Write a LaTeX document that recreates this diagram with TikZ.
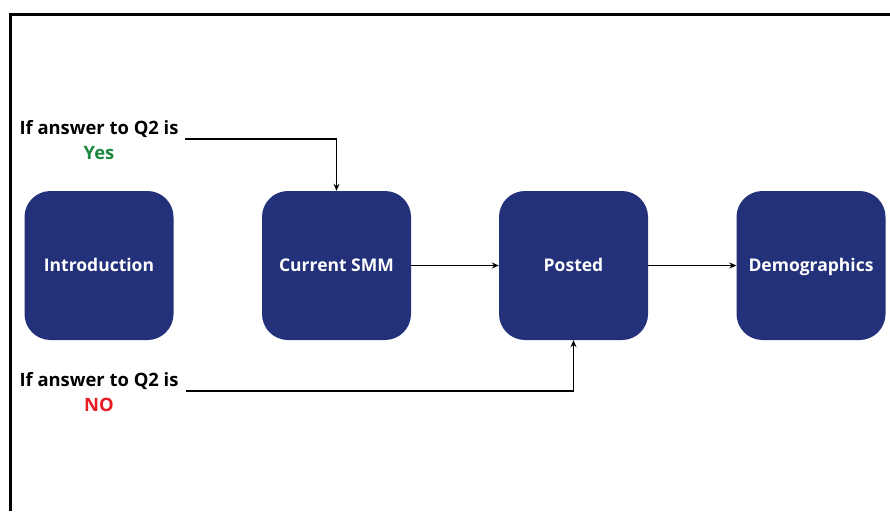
\documentclass[tikz,border=0pt]{standalone}
\usepackage{fontspec}
\setmainfont{Open Sans}
\usetikzlibrary{arrows.meta}
\definecolor{navy}{RGB}{35,48,122}
\definecolor{yesgreen}{RGB}{28,135,62}
\definecolor{nored}{RGB}{232,28,36}
\tikzset{
  stage/.style={fill=navy, rounded corners=26pt, minimum width=149pt, minimum height=149pt, inner sep=0pt, text=white, text height=12.5pt, text depth=0pt, font=\bfseries\fontsize{17.5}{21}\selectfont},
  lbl/.style={inner sep=0pt, text height=13pt, text depth=0pt, font=\bfseries\fontsize{18.4}{22}\selectfont},
  conn/.style={line width=1.8pt, -{Stealth[length=7pt,width=6pt]}}
}
\begin{document}
\begin{tikzpicture}[x=1pt,y=-1pt]
\useasboundingbox (0,0) rectangle (890,511);
\draw[line width=3.5pt] (10.5,511) -- (10.5,14.5) -- (890,14.5);
\node[stage] (intro) at (99,265.5) {Introduction};
\node[stage] (csmm) at (336.5,265.5) {Current SMM};
\node[stage] (posted) at (573.5,265.5) {Posted};
\node[stage] (demo) at (811,265.5) {Demographics};
\node[lbl] (qyes) at (99,128) {If answer to Q2 is};
\node[lbl, text=yesgreen] (yes) at (99,153) {Yes};
\node[lbl] (qno) at (99,380) {If answer to Q2 is};
\node[lbl, text=nored] (no) at (99,405) {NO};
\coordinate (ys) at (185,139);
\coordinate (ns) at (186,391);
\draw[conn] (ys) -| (csmm.north);
\draw[conn] (ns) -| (posted.south);
\draw[conn] (csmm.east) -- (posted.west);
\draw[conn] (posted.east) -- (demo.west);
\end{tikzpicture}
\end{document}
